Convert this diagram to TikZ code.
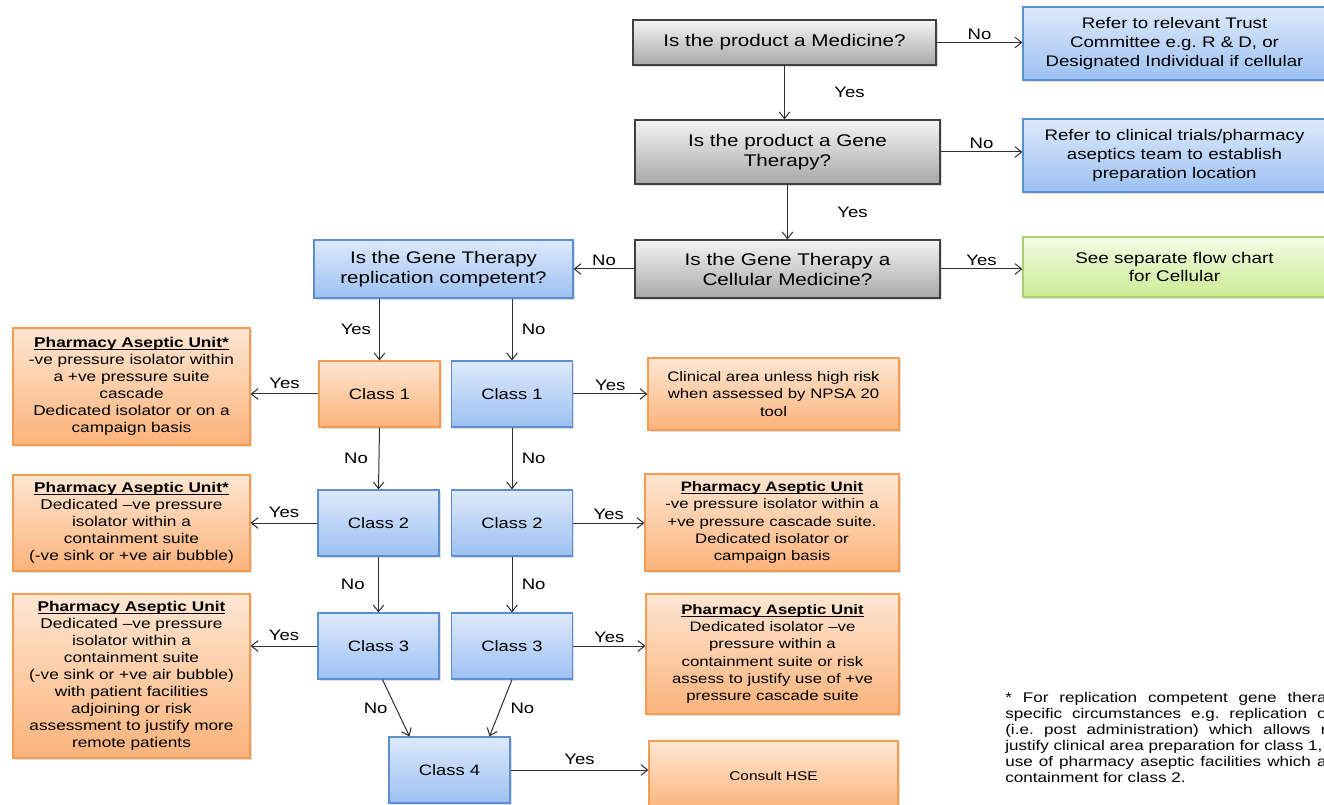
\documentclass[tikz,border=0pt]{standalone}
\usepackage{fontspec}
\setmainfont[FakeStretch=1.22]{Liberation Sans}
\usetikzlibrary{arrows.meta,shadows}
\frenchspacing
\definecolor{qtop}{HTML}{F4F4F4}
\definecolor{qbot}{HTML}{A8A8A8}
\definecolor{qline}{HTML}{404040}
\definecolor{btop}{HTML}{DDE9FB}
\definecolor{bbot}{HTML}{9DC1F3}
\definecolor{bline}{HTML}{5B8FD2}
\definecolor{otop}{HTML}{FEE6D2}
\definecolor{obot}{HTML}{FBB37B}
\definecolor{oline}{HTML}{F59B52}
\definecolor{gtop}{HTML}{F4FBE6}
\definecolor{gbot}{HTML}{CBEC93}
\definecolor{gline}{HTML}{A9D06C}
\definecolor{arrline}{HTML}{303030}
% bold heading, underlined close to the baseline
\newcommand{\unithead}[1]{\setbox0\hbox{\textbf{#1}}\rlap{\rule[-1.4pt]{\wd0}{0.6pt}}\box0}
\tikzset{
  chartbox/.style={draw, align=center, inner sep=1pt, line width=0.9pt,
    drop shadow={shadow xshift=1.4pt, shadow yshift=-1.4pt, opacity=0.25}},
  querybox/.style={chartbox, draw=qline, top color=qtop, bottom color=qbot,
    font=\fontsize{12.7}{15}\selectfont},
  bluebox/.style={chartbox, draw=bline, top color=btop, bottom color=bbot,
    font=\fontsize{11.5}{14}\selectfont},
  greenbox/.style={chartbox, draw=gline, top color=gtop, bottom color=gbot,
    font=\fontsize{11.6}{14}\selectfont},
  orangebox/.style={chartbox, draw=oline, top color=otop, bottom color=obot,
    font=\fontsize{10.6}{12.75}\selectfont},
  classbox/.style={minimum width=90.75pt, minimum height=49.5pt,
    font=\fontsize{11.3}{13}\selectfont},
  advicebox/.style={orangebox, font=\fontsize{10.3}{12.9}\selectfont},
  arr/.style={-{Straight Barb[length=5pt,width=8pt]}, draw=arrline, line width=0.75pt},
  lab/.style={font=\fontsize{11.4}{13}\selectfont, inner sep=2pt},
  notetext/.style={font=\fontsize{10.5}{12}\selectfont, align=left, inner sep=0pt}
}
\begin{document}
\begin{tikzpicture}[x=0.75pt,y=-0.75pt]
  \useasboundingbox (0,0) rectangle (1324,805);
  \clip (0,0) rectangle (1324,805);
  % questions down the middle
  \node[querybox, minimum width=227.25pt, minimum height=33.75pt] (medq) at (784.5,42.5) {Is the product a Medicine?};
  \node[querybox, minimum width=228.75pt, minimum height=48pt] (geneq) at (787.5,152) {Is the product a Gene\\Therapy?};
  \node[querybox, minimum width=228.75pt, minimum height=43.5pt] (cellq) at (787.5,269) {Is the Gene Therapy a\\Cellular Medicine?};
  \node[bluebox, minimum width=194.25pt, minimum height=43.5pt, font=\fontsize{12.6}{15}\selectfont] (replq) at (443.5,269) {Is the Gene Therapy\\replication competent?};
  % outcomes on the right
  \node[bluebox, minimum width=227.25pt, minimum height=54.75pt] (trust) at (1174.5,43.5) {Refer to relevant Trust\\Committee e.g. R \& D, or\\Designated Individual if cellular};
  \node[bluebox, minimum width=227.25pt, minimum height=54.75pt] (trials) at (1174.5,155.5) {Refer to clinical trials/pharmacy\\aseptics team to establish\\preparation location};
  \node[greenbox, minimum width=227.25pt, minimum height=45pt] (sepchart) at (1174.5,267) {See separate flow chart\\for Cellular};
  % class ladders
  \node[orangebox, classbox] (rc1) at (379.5,394) {Class 1};
  \node[bluebox, classbox] (rc2) at (378.5,523) {Class 2};
  \node[bluebox, classbox] (rc3) at (378.5,646) {Class 3};
  \node[bluebox, classbox] (nc1) at (512,394) {Class 1};
  \node[bluebox, classbox] (nc2) at (512,523) {Class 2};
  \node[bluebox, classbox] (nc3) at (512,646) {Class 3};
  \node[bluebox, classbox] (c4) at (449.5,770) {Class 4};
  % left hand advice
  \node[orangebox, minimum width=177.75pt, minimum height=87.75pt] (pau1) at (131.5,386.5) {\unithead{Pharmacy Aseptic Unit*}\\-ve pressure isolator within\\a +ve pressure suite\\cascade\\Dedicated isolator or on a\\campaign basis};
  \node[orangebox, minimum width=177.75pt, minimum height=72pt] (pau2) at (131.5,523) {\unithead{Pharmacy Aseptic Unit*}\\Dedicated –ve pressure\\isolator within a\\containment suite\\(-ve sink or +ve air bubble)};
  \node[orangebox, minimum width=177.75pt, minimum height=123pt] (pau3) at (131.5,676) {\unithead{Pharmacy Aseptic Unit}\\Dedicated –ve pressure\\isolator within a\\containment suite\\(-ve sink or +ve air bubble)\\with patient facilities\\adjoining or risk\\assessment to justify more\\remote patients};
  % right hand advice
  \node[advicebox, minimum width=188.25pt, minimum height=54pt] (clin) at (773.5,394) {Clinical area unless high risk\\when assessed by NPSA 20\\tool};
  \node[advicebox, minimum width=190.5pt, minimum height=72.75pt] (pau4) at (772,522.5) {\unithead{Pharmacy Aseptic Unit}\\-ve pressure isolator within a\\+ve pressure cascade suite.\\Dedicated isolator or\\campaign basis};
  \node[advicebox, minimum width=189.75pt, minimum height=90pt] (pau5) at (772.5,654) {\unithead{Pharmacy Aseptic Unit}\\Dedicated isolator –ve\\pressure within a\\containment suite or risk\\assess to justify use of +ve\\pressure cascade suite};
  \node[advicebox, minimum width=186.75pt, minimum height=52.5pt, font=\fontsize{9.5}{11}\selectfont] (hse) at (773.5,776) {Consult HSE};
  % footnote
  \node[notetext, anchor=north west] (footnote) at (1005,692) {\makebox[241pt][s]{* For replication competent gene thera}\\
    \makebox[241pt][s]{specific circumstances e.g. replication o}\\
    \makebox[241pt][s]{(i.e. post administration) which allows r}\\
    justify clinical area preparation for class 1,\\
    \makebox[241pt][s]{use of pharmacy aseptic facilities which a}\\
    containment for class 2.};
  % connectors
  \draw[arr] (medq.east) -- node[lab, above] {No} (medq.east -| trust.west);
  \draw[arr] (geneq.east) -- node[lab, above] {No} (geneq.east -| trials.west);
  \draw[arr] (cellq.east) -- node[lab, above] {Yes} (cellq.east -| sepchart.west);
  \draw[arr] (cellq.west) -- node[lab, above] {No} (replq.east);
  \draw[arr] (medq.south) -- node[lab, right=35pt] {Yes} (medq.south |- geneq.north);
  \draw[arr] (geneq.south) -- node[lab, right=35pt] {Yes} (cellq.north);
  \draw[arr] (replq.south -| rc1) -- node[lab, left=4pt] {Yes} (rc1.north);
  \draw[arr] (replq.south -| nc1) -- node[lab, right=5pt] {No} (nc1.north);
  \draw[arr] (rc1.south) -- node[lab, left=6pt] {No} (rc2.north);
  \draw[arr] (rc2.south) -- node[lab, left=8pt] {No} (rc3.north);
  \draw[arr] (nc1.south) -- node[lab, right=5pt] {No} (nc2.north);
  \draw[arr] (nc2.south) -- node[lab, right=5pt] {No} (nc3.north);
  \draw[arr] (rc1.west) -- node[lab, above=2pt] {Yes} (rc1.west -| pau1.east);
  \draw[arr] (rc2.west) -- node[lab, above=2pt] {Yes} (pau2.east);
  \draw[arr] (rc3.west) -- node[lab, above=2pt] {Yes} (rc3.west -| pau3.east);
  \draw[arr] (nc1.east) -- node[lab, above] {Yes} (clin.west);
  \draw[arr] (nc2.east) -- node[lab, above] {Yes} (nc2.east -| pau4.west);
  \draw[arr] (nc3.east) -- node[lab, above] {Yes} (nc3.east -| pau5.west);
  \draw[arr] ([xshift=3pt]rc3.south) -- node[lab, left=4pt] {No} ([xshift=-30pt]c4.north);
  \draw[arr] (nc3.south) -- node[lab, right=5pt] {No} ([xshift=30pt]c4.north);
  \draw[arr] (c4.east) -- node[lab, above=2pt] {Yes} (c4.east -| hse.west);
\end{tikzpicture}
\end{document}
